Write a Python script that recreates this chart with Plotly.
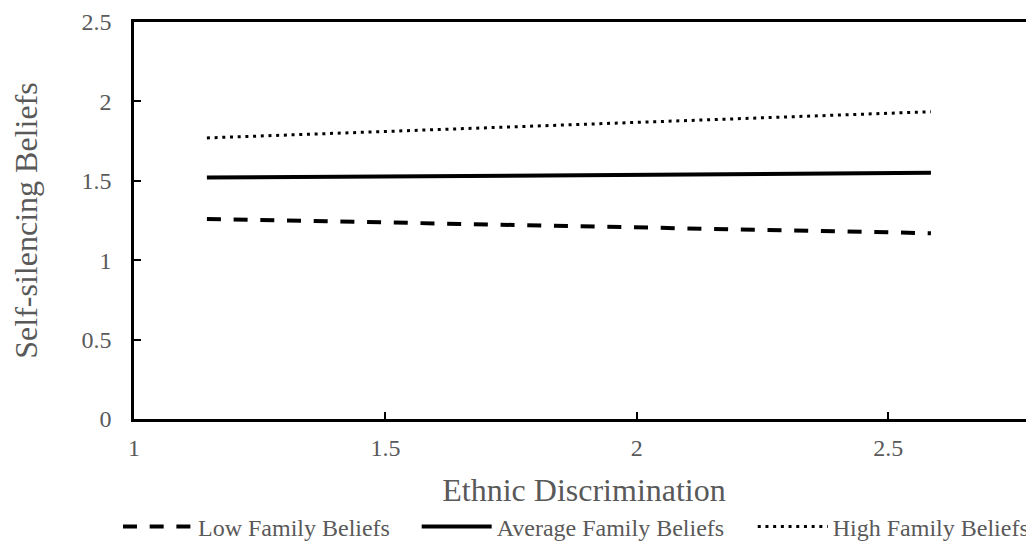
import plotly.graph_objects as go

# Data
x_vals = [1.145, 2.585]
low_family = [1.26, 1.17]
avg_family = [1.52, 1.55]
high_family = [1.77, 1.935]
series_names = ["Low Family Beliefs", "Average Family Beliefs", "High Family Beliefs"]

x_ticks = [1, 1.5, 2, 2.5]
x_tick_labels = ["1", "1.5", "2", "2.5"]
y_ticks = [0, 0.5, 1, 1.5, 2, 2.5]
y_tick_labels = ["0", "0.5", "1", "1.5", "2", "2.5"]

FONT = "Liberation Serif"
GRAY = "#595959"

fig = go.Figure()
fig.add_trace(go.Scatter(x=x_vals, y=low_family, mode="lines", name=series_names[0],
                         legend="legend",
                         line=dict(color="black", width=4, dash="14px,12.7px")))
fig.add_trace(go.Scatter(x=x_vals, y=avg_family, mode="lines", name=series_names[1],
                         legend="legend2",
                         line=dict(color="black", width=4)))
fig.add_trace(go.Scatter(x=x_vals, y=high_family, mode="lines", name=series_names[2],
                         legend="legend3",
                         line=dict(color="black", width=3, dash="3px,4.7px")))

leg_common = dict(orientation="h", xanchor="left", y=-0.215, yanchor="top",
                  font=dict(family=FONT, size=24, color=GRAY),
                  itemwidth=70, bgcolor="rgba(0,0,0,0)")

fig.update_layout(
    width=1026, height=538,
    margin=dict(l=126, r=0, t=14, b=127, autoexpand=False),
    paper_bgcolor="white", plot_bgcolor="white",
    font=dict(family=FONT, color=GRAY, size=24),
    showlegend=True,
    legend=dict(x=-0.0178, **leg_common),
    legend2=dict(x=0.3141, **leg_common),
    legend3=dict(x=0.6875, **leg_common),
)
fig.update_xaxes(
    range=[1, 2.79], tickvals=x_ticks, ticktext=x_tick_labels,
    showgrid=False, zeroline=False, automargin=False,
    showline=True, linecolor="black", linewidth=2.5, mirror=True,
    ticks="inside", ticklen=7, tickwidth=1.5, tickcolor="black",
    tickfont=dict(family=FONT, size=24, color=GRAY),
    title=dict(text="Ethnic Discrimination", font=dict(family=FONT, size=32, color=GRAY), standoff=20),
    ticklabelstandoff=5, ticklabeloverflow="allow",
)
fig.update_yaxes(
    range=[0, 2.5], tickvals=y_ticks, ticktext=y_tick_labels,
    showgrid=False, zeroline=False, automargin=False,
    showline=True, linecolor="black", linewidth=2.5,
    ticks="inside", ticklen=7, tickwidth=1.5, tickcolor="black",
    tickfont=dict(family=FONT, size=24, color=GRAY),
    title=dict(text="Self-silencing Beliefs", font=dict(family=FONT, size=32, color=GRAY), standoff=40),
    ticklabelstandoff=15, ticklabeloverflow="allow",
)

fig.write_html("out.html")
